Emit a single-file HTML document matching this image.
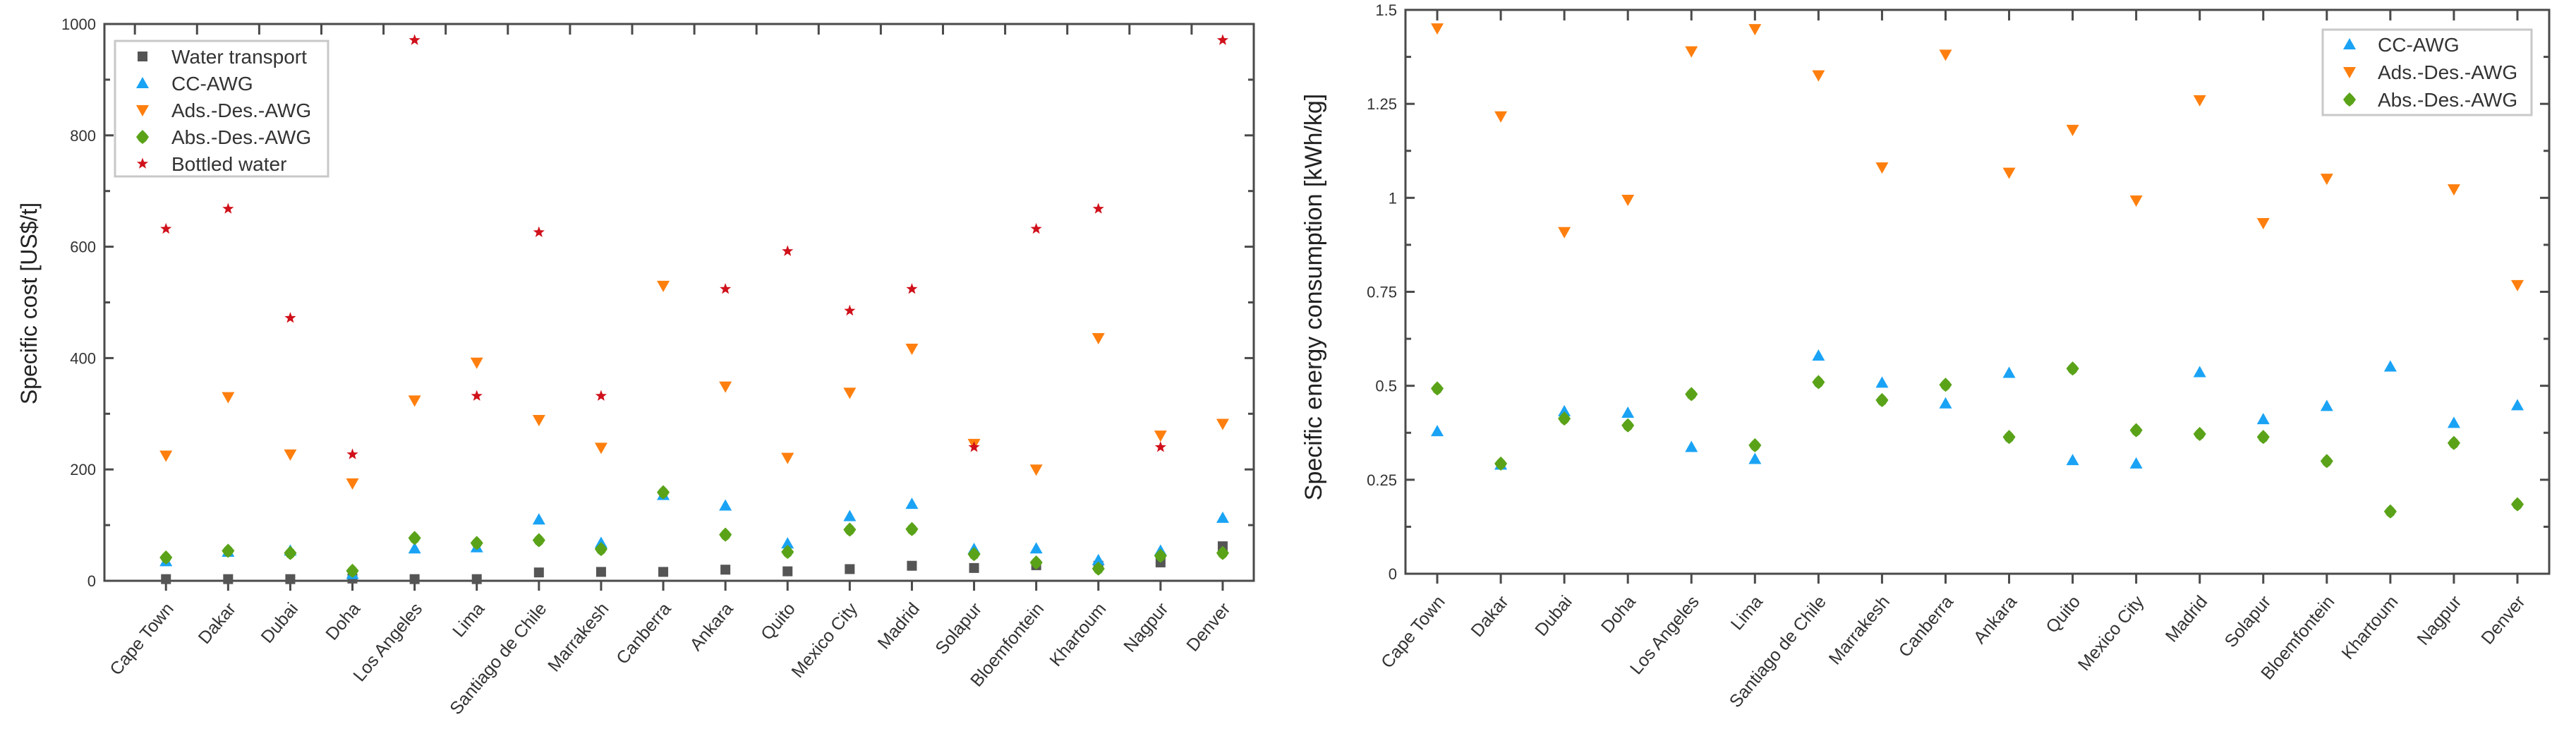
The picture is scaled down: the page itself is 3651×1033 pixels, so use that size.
<!DOCTYPE html>
<html><head><meta charset="utf-8"><style>
html,body{margin:0;padding:0;background:#fff;}
svg{display:block;font-family:"Liberation Sans",sans-serif;}
</style></head><body>
<svg id="s" width="3651" height="1033" viewBox="0 0 3651 1033"></svg>
<script>
const categories=["Cape Town","Dakar","Dubai","Doha","Los Angeles","Lima","Santiago de Chile","Marrakesh","Canberra","Ankara","Quito","Mexico City","Madrid","Solapur","Bloemfontein","Khartoum","Nagpur","Denver"];
const costWater=[3,3,3,4,3,3,15,16,16,20,17,21,27,23,28,27,33,62];
const costCC=[35,52,54,12,58,60,110,68,154,135,67,116,138,57,58,37,54,113];
const costAds=[225,330,227,175,324,392,289,239,530,349,221,338,417,246,200,436,261,282];
const costAbs=[42,54,50,18,77,68,73,57,159,83,52,92,93,48,33,22,45,50];
const costBottled=[632,668,472,227,971,332,626,332,null,524,592,485,524,240,632,668,240,971];
const energyCC=[0.379,0.290,0.432,0.428,0.337,0.305,0.580,0.508,0.453,0.534,0.302,0.293,0.536,0.411,0.446,0.551,0.401,0.448];
const energyAds=[1.451,1.217,0.909,0.995,1.390,1.449,1.326,1.081,1.381,1.067,1.181,0.993,1.260,0.933,1.051,null,1.023,0.768];
const energyAbs=[0.493,0.293,0.413,0.395,0.478,0.342,0.510,0.462,0.503,0.364,0.546,0.382,0.372,0.364,0.300,0.166,0.348,0.185];
const costTicks=[0,200,400,600,800,1000];
const energyTicks=[0,0.25,0.5,0.75,1,1.25,1.5];
const energyTickLabels=["0","0.25","0.5","0.75","1","1.25","1.5"];

const NS="http://www.w3.org/2000/svg";
const svg=document.getElementById('s');
function mk(tag,attrs,parent){const e=document.createElementNS(NS,tag);for(const k in attrs)e.setAttribute(k,attrs[k]);(parent||svg).appendChild(e);return e;}
const AX="#4a4a4a";
const COL={water:"#555555",cc:"#1aa3f5",ads:"#ff7f0e",abs:"#5aa319",bot:"#d0101a"};

function marker(g,type,x,y,name){
  let e;
  if(type==="water"){e=mk('rect',{x:x-7,y:y-7,width:14,height:14,fill:COL.water},g);}
  else if(type==="cc"){e=mk('polygon',{points:`${x},${y-9} ${x+9},${y+7} ${x-9},${y+7}`,fill:COL.cc},g);}
  else if(type==="ads"){e=mk('polygon',{points:`${x-9},${y-7} ${x+9},${y-7} ${x},${y+9}`,fill:COL.ads},g);}
  else if(type==="abs"){e=mk('polygon',{points:`${x},${y-10} ${x+5},${y-5} ${x+9},${y} ${x+5},${y+6} ${x},${y+10} ${x-5},${y+6} ${x-9},${y} ${x-5},${y-5}`,fill:COL.abs},g);}
  else {let p=[];for(let i=0;i<10;i++){const r=i%2?3.5:8.5;const a=-Math.PI/2+i*Math.PI/5;p.push((x+r*Math.cos(a)).toFixed(1)+","+(y+r*Math.sin(a)).toFixed(1));}
    e=mk('polygon',{points:p.join(" "),fill:COL.bot},g);}
  
  
  return e;
}

function chart(o){
  const g=mk('g',{});
  
  
  const xS=i=>o.x0+(o.x1-o.x0)*(i-o.dmin)/(o.dmax-o.dmin);
  const yS=v=>o.yb-(o.yb-o.yt)*(v-o.vmin)/(o.vmax-o.vmin);
  // frame
  const fr=mk('rect',{x:o.x0,y:o.yt,width:o.x1-o.x0,height:o.yb-o.yt,fill:"none",stroke:AX,"stroke-width":3},g);
  
  
  // y ticks
  o.yticks.forEach((v,k)=>{
    const y=yS(v);
    mk('line',{x1:o.x0,x2:o.x0+13,y1:y,y2:y,stroke:AX,"stroke-width":3},g);
    mk('line',{x1:o.x1,x2:o.x1-13,y1:y,y2:y,stroke:AX,"stroke-width":3},g);
    const t=mk('text',{x:o.x0-12,y:y+8,"text-anchor":"end","font-size":22,fill:"#333"},g);
    t.textContent=o.ylabels[k];
    
    
    if(k<o.yticks.length-1){const ym=yS((v+o.yticks[k+1])/2);
      mk('line',{x1:o.x0,x2:o.x0+8,y1:ym,y2:ym,stroke:AX,"stroke-width":3},g);
      mk('line',{x1:o.x1,x2:o.x1-8,y1:ym,y2:ym,stroke:AX,"stroke-width":3},g);}
  });
  // x ticks & labels
  categories.forEach((c,i)=>{
    const x=xS(i);
    mk('line',{x1:x,x2:x,y1:o.yb,y2:o.yb+14,stroke:AX,"stroke-width":3},g);
    const xt=xS(i+o.topOff);
    if(xt>o.x0+5&&xt<o.x1-5) mk('line',{x1:xt,x2:xt,y1:o.yt,y2:o.yt+15,stroke:AX,"stroke-width":3},g);
    const lx=x+12,ly=o.yb+40;
    const t=mk('text',{x:lx,y:ly,"text-anchor":"end","font-size":25,fill:"#333",transform:`rotate(-50 ${lx} ${ly})`},g);
    t.textContent=c;
    
    
  });
  // title
  const tt=mk('text',{x:o.tx,y:o.ty,"text-anchor":"middle","font-size":o.tfs,fill:"#222",transform:`rotate(-90 ${o.tx} ${o.ty})`},g);
  tt.textContent=o.title;
  
  
  // series
  o.series.forEach(s=>{
    s.data.forEach((v,i)=>{if(v!==null&&v!==undefined) marker(g,s.type,xS(i),yS(v),s.type+'-point');});
  });
  // legend
  const lg=mk('g',{},g);
  
  
  mk('rect',{x:o.lx,y:o.ly,width:o.lw,height:o.lh,fill:"#fff",stroke:"#c8c8c8","stroke-width":3},lg);
  o.series.forEach((s,k)=>{
    const y=o.ly+o.lr0+k*o.lstep;
    marker(lg,s.type,o.lx+o.lmx,y,'legend-marker');
    const t=mk('text',{x:o.lx+o.ltx,y:y+10,"font-size":28,fill:"#333"},lg);
    t.textContent=s.label;
    
    
  });
}

chart({name:'cost-chart',x0:148,x1:1777,yt:34,yb:823,dmin:-0.99,dmax:17.5,vmin:0,vmax:1000,
  yticks:costTicks,ylabels:costTicks.map(String),topOff:-0.5,
  title:"Specific cost [US$/t]",tx:52,ty:430,tfs:32,
  series:[{type:'water',label:'Water transport',data:costWater},{type:'cc',label:'CC-AWG',data:costCC},
    {type:'ads',label:'Ads.-Des.-AWG',data:costAds},{type:'abs',label:'Abs.-Des.-AWG',data:costAbs},
    {type:'bot',label:'Bottled water',data:costBottled}],
  lx:163,ly:58,lw:302,lh:192,lr0:22,lstep:38,lmx:39,ltx:80});

chart({name:'energy-chart',x0:1992,x1:3613,yt:14,yb:813,dmin:-0.5,dmax:17.5,vmin:0,vmax:1.5,
  yticks:energyTicks,ylabels:energyTickLabels,topOff:0,
  title:"Specific energy consumption [kWh/kg]",tx:1873,ty:421,tfs:34,
  series:[{type:'cc',label:'CC-AWG',data:energyCC},{type:'ads',label:'Ads.-Des.-AWG',data:energyAds},
    {type:'abs',label:'Abs.-Des.-AWG',data:energyAbs}],
  lx:3292,ly:42,lw:296,lh:121,lr0:21,lstep:39,lmx:38,ltx:78});
</script>
</body></html>
